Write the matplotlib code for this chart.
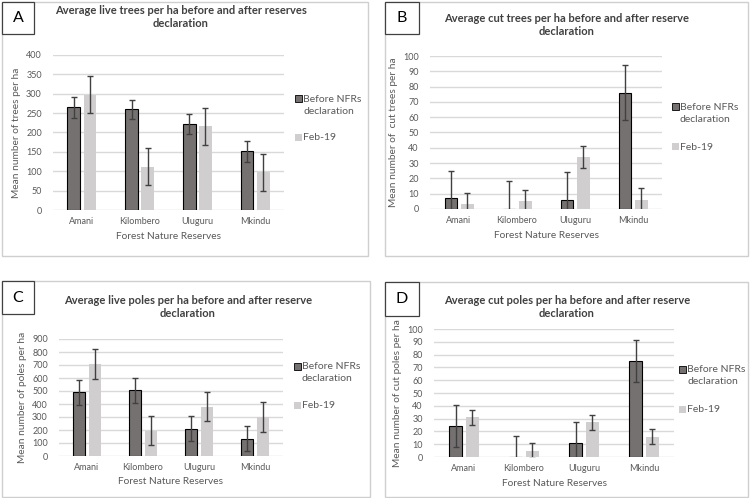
# plot.py
# Four panels: live / cut trees and poles per ha, before and after reserve declaration

import numpy as np
import matplotlib.pyplot as plt
from matplotlib.patches import Rectangle

plt.rcParams["font.family"] = ["Lato", "DejaVu Sans"]

# ---- data ----
reserves = ["Amani", "Kilombero", "Uluguru", "Mkindu"]
series_names = ["Before NFRs\ndeclaration", "Feb-19"]

live_trees_before = [265, 260, 222, 151]
live_trees_feb19 = [298, 112, 216, 97]
live_trees_err_before = [27, 25, 27, 27]
live_trees_err_feb19 = [47, 47, 47, 47]

cut_trees_before = [7, 0, 6, 76]
cut_trees_feb19 = [3, 5, 34, 6]
cut_trees_err_before = [18, 18, 18, 18]
cut_trees_err_feb19 = [7.5, 7.5, 7.5, 7.5]

live_poles_before = [491, 506, 209, 134]
live_poles_feb19 = [708, 196, 380, 300]
live_poles_err_before = [95, 95, 95, 95]
live_poles_err_feb19 = [112, 112, 112, 112]

cut_poles_before = [24, 0, 11, 75]
cut_poles_feb19 = [31, 5, 27, 16]
cut_poles_err_before = [16.5, 16.5, 16.5, 16.5]
cut_poles_err_feb19 = [6, 6, 6, 6]

W, H = 750, 498
DARK = "#767171"
LIGHT = "#d0cece"
TXT = "#595959"


def fx(px):
    return px / W


def fy(py):
    return 1 - py / H


fig = plt.figure(figsize=(W / 100, H / 100), dpi=100)
fig.patch.set_facecolor("white")


def panel(box, label_box, axes_px, title, title_xy, ylabel, ymax, ystep,
          before, feb, err_b, err_f, legend_xy, legend_gap):
    # outer panel frame
    x0, y0, x1, y1 = box
    fig.patches.append(Rectangle((fx(x0), fy(y1)), fx(x1 - x0), (y1 - y0) / H,
                                 transform=fig.transFigure, fill=False,
                                 edgecolor="#cfcfcf", linewidth=1.0))
    # letter box
    lx0, ly0, lx1, ly1, letter = label_box
    fig.patches.append(Rectangle((fx(lx0), fy(ly1)), fx(lx1 - lx0), (ly1 - ly0) / H,
                                 transform=fig.transFigure, facecolor="white",
                                 edgecolor="#404040", linewidth=0.9))
    fig.text(fx((lx0 + lx1) / 2), fy((ly0 + ly1) / 2), letter, ha="center",
             va="center", fontsize=11.5, color="black")

    # title
    fig.text(fx(title_xy[0]), fy(title_xy[1]), title, ha="center", va="center",
             fontsize=8, fontweight="bold", color="#404040", linespacing=1.3)

    ax0, ay0, ax1, ay1 = axes_px
    ax = fig.add_axes([fx(ax0), fy(ay1), fx(ax1 - ax0), (ay1 - ay0) / H])
    x = np.arange(len(reserves))
    w = 0.22
    off = 0.14
    ax.bar(x - off, before, w, color=DARK, edgecolor="black", linewidth=0.8, zorder=3)
    ax.bar(x + off, feb, w, color=LIGHT, edgecolor="none", zorder=3)
    ax.errorbar(x - off, before, yerr=err_b, fmt="none", ecolor="#404040",
                elinewidth=1.0, capsize=2.3, capthick=1.0, zorder=4)
    ax.errorbar(x + off, feb, yerr=err_f, fmt="none", ecolor="#404040",
                elinewidth=1.0, capsize=2.3, capthick=1.0, zorder=4)

    ax.set_xlim(-0.5, len(reserves) - 0.5)
    ax.set_ylim(0, ymax)
    ax.set_yticks(np.arange(0, ymax + 1, ystep))
    ax.yaxis.grid(True, color="#d9d9d9", linewidth=1.0, zorder=0)
    ax.set_axisbelow(True)
    for s in ax.spines.values():
        s.set_visible(False)
    ax.tick_params(axis="both", length=0, labelsize=6.5, labelcolor=TXT)
    ax.tick_params(axis="y", pad=8)
    ax.tick_params(axis="x", pad=5)
    ax.set_xticks(x)
    ax.set_xticklabels(reserves)
    ax.set_xlabel("Forest Nature Reserves", fontsize=7.3, color=TXT, labelpad=4)
    ax.set_ylabel(ylabel, fontsize=7.3, color=TXT, labelpad=4)

    # legend, drawn by hand to sit like the Excel one
    mx, my = legend_xy
    fig.patches.append(Rectangle((fx(mx - 3.5), fy(my + 3.5)), fx(7), 7 / H,
                                 transform=fig.transFigure, facecolor=DARK,
                                 edgecolor="black", linewidth=0.6))
    fig.text(fx(mx + 5), fy(my + 6.5), series_names[0], ha="left", va="center",
             fontsize=7.5, color=TXT, linespacing=1.3)
    my2 = my + legend_gap
    fig.patches.append(Rectangle((fx(mx - 3.5), fy(my2 + 3.5)), fx(7), 7 / H,
                                 transform=fig.transFigure, facecolor=LIGHT,
                                 edgecolor="none"))
    fig.text(fx(mx + 5), fy(my2), series_names[1], ha="left", va="center",
             fontsize=7.5, color=TXT)
    return ax


panel((2, 2, 368, 256), (2, 2, 34, 34, "A"), (53, 55, 284, 210),
      "Average live trees per ha before and after reserves\ndeclaration", (181, 17),
      "Mean number of trees per ha", 400, 50,
      live_trees_before, live_trees_feb19, live_trees_err_before, live_trees_err_feb19,
      (298, 99), 39)

panel((385, 2, 748, 256), (385, 2, 419, 34, "B"), (430, 56, 662, 209),
      "Average cut trees per ha before and after reserve\ndeclaration", (567, 25),
      "Mean number of  cut trees per ha", 100, 10,
      cut_trees_before, cut_trees_feb19, cut_trees_err_before, cut_trees_err_feb19,
      (675, 107), 40)

panel((2, 281, 370, 497), (2, 281, 34, 314, "C"), (59, 339, 283, 456),
      "Average live poles per ha before and after reserve\ndeclaration", (188, 307),
      "Mean number of poles per ha", 900, 100,
      live_poles_before, live_poles_feb19, live_poles_err_before, live_poles_err_feb19,
      (297, 366), 39)

panel((385, 282, 748, 497), (385, 282, 419, 316, "D"), (434, 329, 674, 457),
      "Average cut poles per ha before and after reserve\ndeclaration", (567, 307),
      "Mean number of cut poles per ha", 100, 10,
      cut_poles_before, cut_poles_feb19, cut_poles_err_before, cut_poles_err_feb19,
      (682, 369), 40)

plt.savefig("out.png", dpi=100)
